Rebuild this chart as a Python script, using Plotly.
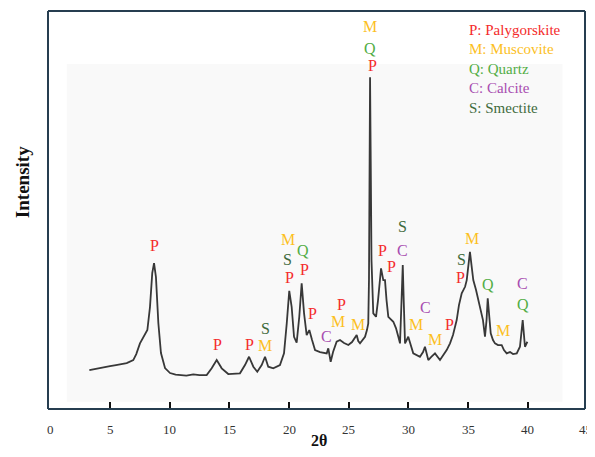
import plotly.graph_objects as go

# ---- diffraction pattern (2θ in degrees, intensity in arbitrary units) ----
two_theta = [
    3.27, 3.8, 4.3, 4.8, 5.0, 5.5, 6.0, 6.4, 6.95, 7.2,
    7.51, 7.93, 8.13, 8.35, 8.54, 8.69, 8.85, 9.05, 9.27, 9.61,
    10.03, 10.5, 10.87, 11.4, 11.98, 12.5, 13.1, 13.52, 13.94, 14.36,
    14.91, 15.4, 15.89, 16.31, 16.65, 17.01, 17.34, 17.71, 17.99, 18.26,
    18.68, 19.24, 19.58, 19.81, 20.02, 20.22, 20.42, 20.64, 20.86, 21.06,
    21.26, 21.48, 21.7, 21.93, 22.18, 22.6, 23.16, 23.29, 23.49, 23.69,
    23.99, 24.27, 24.61, 24.97, 25.28, 25.67, 25.8, 25.95, 26.2, 26.37,
    26.53, 26.64, 26.7, 26.76, 26.79, 26.84, 26.91, 27.06, 27.29, 27.46,
    27.62, 27.71, 27.9, 28.04, 28.17, 28.32, 28.74, 28.96, 29.16, 29.3,
    29.43, 29.53, 29.61, 29.72, 29.99, 30.22, 30.41, 30.97, 31.23, 31.39,
    31.67, 31.9, 32.23, 32.65, 32.9, 33.21, 33.49, 33.74, 34.05, 34.24,
    34.47, 34.75, 34.89, 35.04, 35.16, 35.29, 35.44, 35.67, 36.0, 36.25,
    36.42, 36.55, 36.65, 36.76, 36.9, 37.09, 37.26, 37.51, 37.82, 38.01,
    38.24, 38.52, 38.77, 39.08, 39.35, 39.58, 39.77, 39.97,
]
intensity = [
    39, 40, 41, 42.5, 43, 44, 45, 46, 49, 55,
    65.7, 74, 79, 102, 136, 146, 132, 86, 56, 41,
    36, 34.5, 34, 33.5, 34.7, 34, 34, 40.7, 49, 40.7,
    35, 35, 35.7, 44, 52.3, 42.3, 37.3, 44, 52.3, 42.3,
    40.7, 44, 55.7, 85.7, 118.3, 102.3, 72.3, 66.3, 92.3, 125.7,
    95.7, 74, 79, 69, 59, 57, 55.7, 60.7, 47.3, 57,
    67.3, 69, 66, 64, 67, 74, 68, 65.7, 69, 72.3,
    79, 85.7, 129, 229, 332, 259, 149, 95.7, 92.3, 109,
    129, 140.7, 129, 129, 109, 92.3, 87.3, 81, 72.3, 65.7,
    109, 144, 109, 65.7, 72.3, 64, 55.7, 52.3, 57, 62.3,
    49, 52, 55.7, 49, 53, 59, 65.7, 74, 89, 104,
    115.7, 122.3, 129, 144, 157.3, 144, 129, 119, 102.3, 89,
    72.3, 89, 110.7, 94, 75.7, 69, 65.7, 64, 64, 59,
    55.7, 57, 55, 55.7, 62.3, 89, 62.3, 67.3,
]

# ---- peak labels ----
label_text = ["P", "P", "P", "S", "M",
              "M", "S", "P", "Q", "P", "P", "C", "M", "P", "M",
              "M", "Q", "P", "P", "P", "S", "C", "M", "C", "M", "P",
              "S", "P", "M", "Q", "M", "C", "Q"]
label_x = [8.69, 13.97, 16.65, 17.99, 17.99,
           19.89, 19.89, 20.02, 21.20, 21.28, 21.95, 23.10, 24.13, 24.41, 25.81,
           26.79, 26.79, 26.98, 27.82, 28.60, 29.53, 29.53, 30.62, 31.45, 32.23, 33.41,
           34.41, 34.33, 35.31, 36.70, 37.96, 39.58, 39.63]
label_y = [164, 65, 65, 81, 64,
           169.7, 149.7, 131.3, 159, 139.7, 95.7, 72.3, 87.3, 104.7, 85,
           382.3, 360.7, 344, 159, 143, 182.3, 159, 85, 101.7, 69.7, 85,
           149.7, 131.3, 170.7, 125, 78.3, 125.7, 105]

legend_keys = ["P", "M", "Q", "C", "S"]
legend_names = ["Palygorskite", "Muscovite", "Quartz", "Calcite", "Smectite"]

x_ticks = [0, 5, 10, 15, 20, 25, 30, 35, 40, 45]

colors = {"P": "#f42b2b", "M": "#fcc01e", "Q": "#52ad45",
          "C": "#a84db0", "S": "#3f6b3d"}
FONT = "Liberation Serif"
FRAME = "#263e50"
X_RANGE = [-0.195, 44.80]
Y_RANGE = [0, 398.3]

fig = go.Figure()
fig.add_trace(go.Scatter(
    x=two_theta, y=intensity, mode="lines",
    line=dict(color="#383838", width=1.8),
    showlegend=False, hoverinfo="skip",
))

annotations = []
for t, x, y in zip(label_text, label_x, label_y):
    annotations.append(dict(
        x=x, y=y, xref="x", yref="y", text=t, showarrow=False,
        font=dict(family=FONT, size=16, color=colors[t]),
        xanchor="center", yanchor="middle",
    ))

legend_top = 379.7
legend_step = 19.5
for i, (k, name) in enumerate(zip(legend_keys, legend_names)):
    annotations.append(dict(
        x=34.89, y=legend_top - i * legend_step, xref="x", yref="y",
        text=f"{k}: {name}", showarrow=False,
        font=dict(family=FONT, size=15, color=colors[k]),
        xanchor="center" if False else "left", yanchor="middle",
    ))

# x tick labels (written under the frame, the end ones at the frame corners)
for v in x_ticks:
    annotations.append(dict(
        x=min(max(v, X_RANGE[0] + 0.1), X_RANGE[1]), y=-0.0527,
        xref="x", yref="paper", text=str(v), showarrow=False,
        font=dict(family=FONT, size=13, color="#333"),
        xanchor="center", yanchor="middle",
    ))

# axis titles
annotations.append(dict(x=0.5047, y=-0.0803, xref="paper", yref="paper",
                        text="<b>2θ</b>", showarrow=False,
                        font=dict(family=FONT, size=16, color="#111"),
                        xanchor="center", yanchor="middle"))
annotations.append(dict(x=-0.0477, y=0.571, xref="paper", yref="paper",
                        text="<b>Intensity</b>", showarrow=False, textangle=-90,
                        font=dict(family=FONT, size=19, color="#111"),
                        xanchor="center", yanchor="middle"))

shapes = [
    # faint scan background
    dict(type="rect", xref="paper", yref="paper",
         x0=0.035, x1=0.958, y0=0.018, y1=0.867,
         fillcolor="#f9f9f9", line=dict(width=0), layer="below"),
]
# plot frame as four lines
for x0, x1, y0, y1 in [(0, 1, 1, 1), (1, 1, 0, 1), (0, 0, 0, 1), (0, 1, 0, 0)]:
    shapes.append(dict(type="line", xref="paper", yref="paper",
                       x0=x0, x1=x1, y0=y0, y1=y1,
                       line=dict(color=FRAME, width=2)))

# the page body has an 8px default margin: size the figure so the page
# does not overflow and the frame lands at the reference's pixels
fig.update_layout(
    width=587, height=441,
    margin=dict(l=40, r=10, t=3, b=40),
    paper_bgcolor="white", plot_bgcolor="white",
    font=dict(family=FONT, color="#333"),
    annotations=annotations,
    shapes=shapes,
    xaxis=dict(
        range=X_RANGE, tickvals=x_ticks[1:-1], showticklabels=False,
        ticks="inside", ticklen=7, tickwidth=2, tickcolor="#111",
        showline=False, showgrid=False, zeroline=False,
    ),
    yaxis=dict(
        range=Y_RANGE, showticklabels=False, ticks="",
        showline=False, showgrid=False, zeroline=False,
    ),
)

fig.write_html("out.html")
